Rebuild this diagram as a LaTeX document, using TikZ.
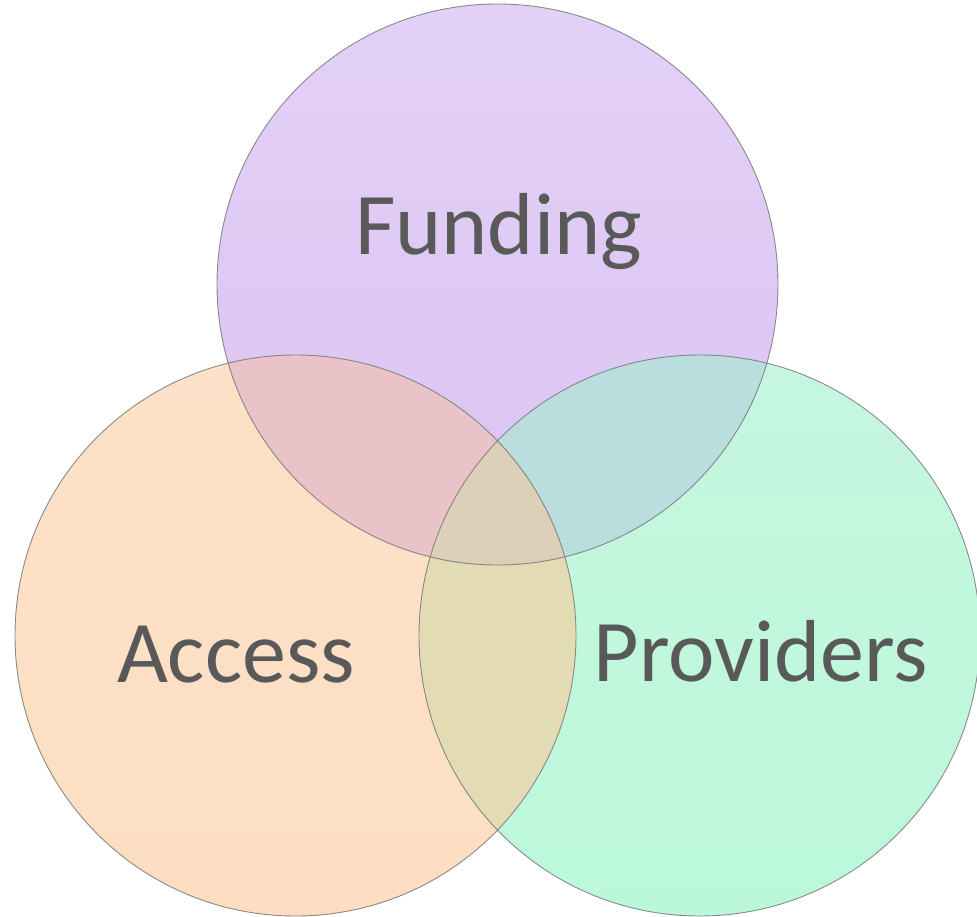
\documentclass[tikz,border=0pt]{standalone}
\usepackage{fontspec}
\setmainfont{Carlito}
\definecolor{fundc}{RGB}{223,201,244}
\definecolor{fundtop}{RGB}{227,208,247}
\definecolor{fundbot}{RGB}{219,195,242}
\definecolor{accc}{RGB}{253,222,194}
\definecolor{provtop}{RGB}{198,246,224}
\definecolor{provbot}{RGB}{187,248,218}
\definecolor{fa}{RGB}{234,195,200}
\definecolor{fp}{RGB}{186,222,222}
\definecolor{ap}{RGB}{226,219,180}
\definecolor{fap}{RGB}{220,208,184}
\definecolor{txt}{RGB}{89,89,89}
\definecolor{edge}{RGB}{120,120,120}
\begin{document}
\begin{tikzpicture}[x=1pt,y=-1pt,
  lbl/.style={text=txt,font=\fontsize{88}{88}\selectfont,inner sep=0pt,anchor=base},
  rim/.style={draw=edge,line width=0.9pt,draw opacity=0.85}]
\useasboundingbox (0,0) rectangle (977,917);
\clip (0,0) rectangle (977,917);
\coordinate (F) at (497.5,284.5);
\coordinate (A) at (295.5,635.5);
\coordinate (P) at (699.5,635.5);
\def\R{280.5}
% single circles
\shade[top color=fundtop,bottom color=fundbot] (F) circle[radius=\R];
\shade[top color=accc!90!white,bottom color=accc] (A) circle[radius=\R];
\shade[top color=provtop,bottom color=provbot] (P) circle[radius=\R];
% pairwise overlaps
\begin{scope}
  \clip (F) circle[radius=\R];
  \fill[fa] (A) circle[radius=\R];
  \fill[fp] (P) circle[radius=\R];
\end{scope}
\begin{scope}
  \clip (A) circle[radius=\R];
  \fill[ap] (P) circle[radius=\R];
  \clip (P) circle[radius=\R];
  \fill[fap] (F) circle[radius=\R];
\end{scope}
% outlines
\draw[rim] (F) circle[radius=\R];
\draw[rim] (A) circle[radius=\R];
\draw[rim] (P) circle[radius=\R];
% labels
\node[lbl] (funding) at (498.5,255) {Funding};
\node[lbl] (access) at (236,682) {Access};
\node[lbl] (providers) at (761,681) {Providers};
\end{tikzpicture}
\end{document}
